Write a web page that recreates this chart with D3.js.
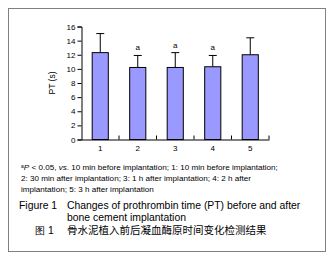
<!DOCTYPE html>
<html><head><meta charset="utf-8">
<script src="https://cdn.jsdelivr.net/npm/d3@7"></script>
<style>body{margin:0;background:#fff}svg{display:block}</style>
</head><body>
<script>
const categories = ["1","2","3","4","5"];
const means = [12.3, 10.2, 10.2, 10.3, 12.0];
const sds = [2.7, 1.7, 2.1, 1.6, 2.4];
const sigLabels = ["", "a", "a", "a", ""];
const yTicks = [0,2,4,6,8,10,12,14,16];
const footnote = [
  ["a", "P", " < 0.05, ", "vs", ". 10 min before implantation; 1: 10 min before implantation;"],
  "2: 30 min after implantation; 3: 1 h after implantation; 4: 2 h after",
  "implantation; 5: 3 h after implantation"
];
const captionEn = ["Changes of prothrombin time (PT) before and after", "bone cement implantation"];
const captionZh = "骨水泥植入前后凝血酶原时间变化检测结果";

const W = 333, H = 260;
const svg = d3.select("body").append("svg").attr("width", W).attr("height", H)
  .style("font-family", "'Liberation Sans', Arial, sans-serif");
svg.append("rect").attr("x", 8.5).attr("y", 8.5).attr("width", 317).attr("height", 243)
  .attr("fill", "none").attr("stroke", "#808080").attr("stroke-width", 1);

const x = d3.scaleBand().domain(categories).range([81.5, 269]).paddingInner(0.57).paddingOuter(0.285);
const y = d3.scaleLinear().domain([0, 16]).range([139.5, 26.5]);

const g = svg.append("g");
const yAxis = g.append("g").attr("transform", "translate(81.5,0)")
  .call(d3.axisLeft(y).tickValues(yTicks).tickSize(4).tickPadding(2));
yAxis.selectAll("text").attr("font-size", 8).attr("fill", "#000");
yAxis.selectAll("line,path").attr("stroke", "#000");

const xb = d3.scaleBand().domain(categories).range([81.5, 269]);
const xAxis = g.append("g").attr("transform", "translate(0,139.5)")
  .call(d3.axisBottom(xb).tickSize(0).tickPadding(6).tickSizeOuter(0));
xAxis.select(".domain").attr("stroke", "#000");
xAxis.selectAll("text").attr("font-size", 8).attr("fill", "#000");
g.selectAll(".sep").data(categories).enter().append("line")
  .attr("x1", d => xb(d) + xb.bandwidth()).attr("x2", d => xb(d) + xb.bandwidth())
  .attr("y1", 139.5).attr("y2", 135.5).attr("stroke", "#000");

svg.append("text").attr("transform", "translate(55,83) rotate(-90)")
  .attr("text-anchor", "middle").attr("font-size", 8.5).attr("fill", "#000").text("PT (s)");

const bars = g.selectAll(".bar").data(categories).enter();
bars.append("line").attr("x1", d => x(d) + x.bandwidth()/2).attr("x2", d => x(d) + x.bandwidth()/2)
  .attr("y1", (d,i) => y(means[i])).attr("y2", (d,i) => y(means[i] + sds[i])).attr("stroke", "#000");
bars.append("line").attr("x1", d => x(d) + x.bandwidth()/2 - 4).attr("x2", d => x(d) + x.bandwidth()/2 + 4)
  .attr("y1", (d,i) => y(means[i] + sds[i])).attr("y2", (d,i) => y(means[i] + sds[i])).attr("stroke", "#000");
bars.append("rect").attr("x", d => x(d)).attr("width", x.bandwidth())
  .attr("y", (d,i) => y(means[i])).attr("height", (d,i) => y(0) - y(means[i]))
  .attr("fill", "#9999ff").attr("stroke", "#000");
bars.append("text").attr("x", d => x(d) + x.bandwidth()/2).attr("y", (d,i) => y(means[i] + sds[i]) - 5)
  .attr("text-anchor", "middle").attr("font-size", 8).attr("fill", "#000").text((d,i) => sigLabels[i]);

const fn = svg.append("g").attr("font-size", 8.1).attr("fill", "#000");
const t1 = fn.append("text").attr("x", 21).attr("y", 170).attr("fill", "#000");
t1.append("tspan").attr("font-size", 5).attr("dy", -2.5).text(footnote[0][0]);
t1.append("tspan").attr("font-style", "italic").attr("dy", 2.5).text(footnote[0][1]);
t1.append("tspan").text(footnote[0][2]);
t1.append("tspan").attr("font-style", "italic").text(footnote[0][3]);
t1.append("tspan").text(footnote[0][4]);
fn.append("text").attr("x", 21).attr("y", 181).attr("fill", "#000").text(footnote[1]);
fn.append("text").attr("x", 21).attr("y", 192).attr("fill", "#000").text(footnote[2]);

const cap = svg.append("g").attr("font-size", 10.4).attr("fill", "#000");
cap.append("text").attr("x", 19).attr("y", 209).attr("fill", "#000").text("Figure 1");
cap.append("text").attr("x", 67).attr("y", 209).attr("fill", "#000").text(captionEn[0]);
cap.append("text").attr("x", 67).attr("y", 221).attr("fill", "#000").text(captionEn[1]);
cap.append("text").attr("x", 35).attr("y", 234).attr("fill", "#000").text("图 1");
cap.append("text").attr("x", 67).attr("y", 234).attr("font-family", "'Noto Sans CJK SC'").attr("font-size", 10.5).attr("fill", "#000").text(captionZh);
</script>
</body></html>
